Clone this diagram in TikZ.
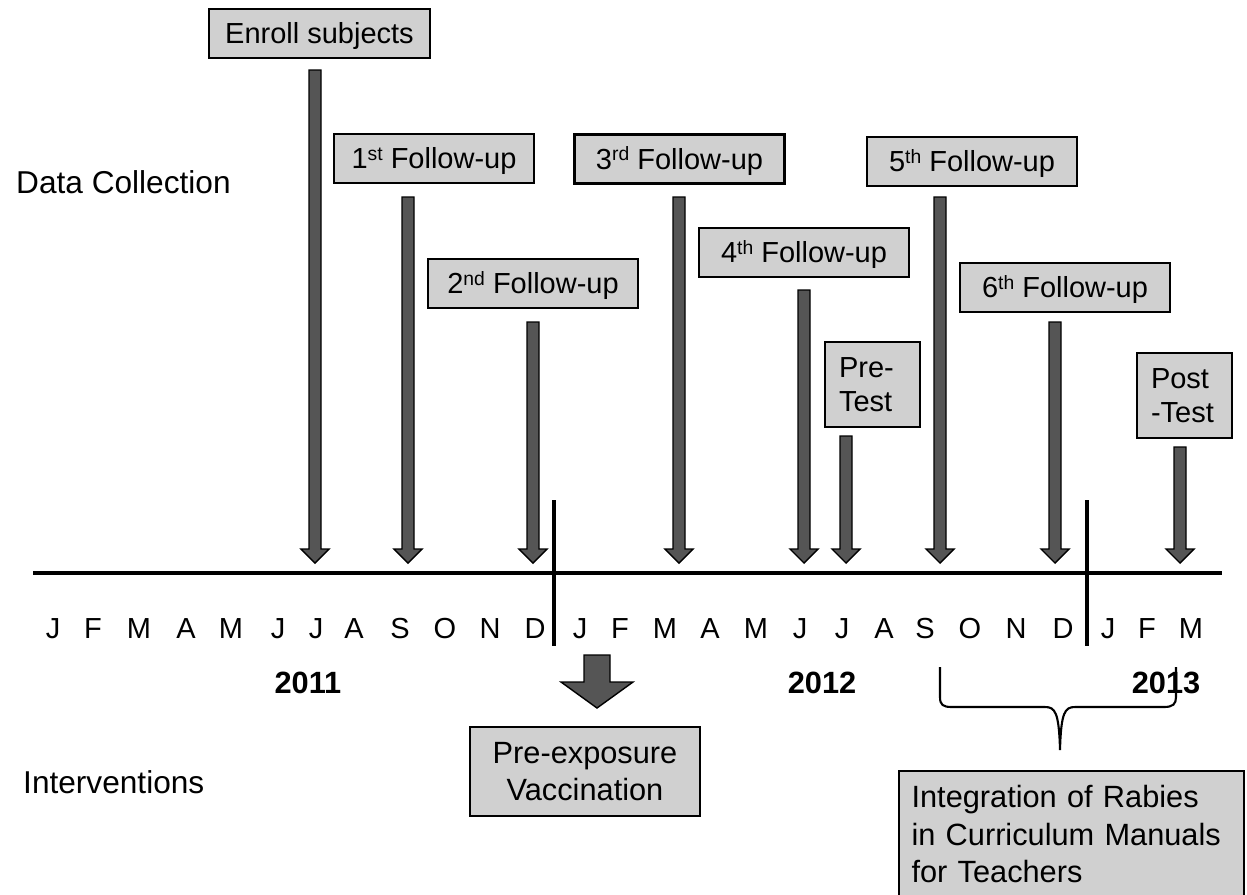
\documentclass[tikz,border=0pt]{standalone}
\usepackage{fontspec}
\setmainfont{Liberation Sans}
\usetikzlibrary{positioning}

\definecolor{boxGray}{HTML}{D0D0D0}
\definecolor{arrowGray}{HTML}{555555}
\newcommand{\ordsup}[1]{\raisebox{5pt}{\fontsize{11}{12}\selectfont #1}}

\begin{document}
\begin{tikzpicture}[
	x=0.02cm, y=-0.02cm,
	font=\fontsize{16.5}{19.5}\selectfont,
	% Node styles
	eventBox/.style={draw=black, line width=1.2pt, fill=boxGray, minimum width=4.2cm, minimum height=0.98cm, inner sep=0pt, text height=12.5pt, text depth=0.7pt},
	testBox/.style={draw=black, line width=1.2pt, fill=boxGray, minimum width=1.9cm, minimum height=1.7cm, inner xsep=0.28cm, text width=1.34cm, align=left},
	actionBox/.style={draw=black, line width=1.2pt, fill=boxGray, font=\fontsize{17.5}{21.5}\selectfont},
	rowLabel/.style={anchor=west, font=\fontsize{18}{21}\selectfont},
	yearLabel/.style={font=\fontsize{17.5}{21}\selectfont\bfseries},
	% Line styles
	blockArrow/.style={draw=black, line width=0.8pt, fill=arrowGray, line join=miter},
	axisLine/.style={line width=2.8pt},
	yearLine/.style={line width=2.2pt},
	braceLine/.style={line width=1.2pt}
	]

	\path[use as bounding box, clip] (0,0) rectangle (1247,894);

	% =========================================================
	% 1. ROW LABELS
	% =========================================================
	\node[rowLabel] (dataLbl) at (10,182) {Data Collection};
	\node[rowLabel] (interLbl) at (17,782) {Interventions};

	% =========================================================
	% 2. TIME AXIS (months, years)
	% =========================================================
	\coordinate (axisStart) at (33,573);
	\coordinate (axisEnd) at (1222,573);
	\draw[axisLine] (axisStart) -- (axisEnd);

	\foreach \x/\m [count=\i] in {53/J, 93/F, 139/M, 186/A, 231/M, 278/J, 316/J, 354/A, 400/S, 445/O, 490/N, 535/D,
		580/J, 620/F, 665/M, 710/A, 756/M, 800/J, 842/J, 884/A, 925/S, 970/O, 1016/N, 1063/D,
		1108/J, 1147/F, 1191/M}
		\node (month\i) at (\x,629) {\m};

	% year separators
	\coordinate (sepA) at (554,500);
	\coordinate (sepB) at (1087,500);
	\draw[yearLine] (sepA) -- (554,646);
	\draw[yearLine] (sepB) -- (1087,646);

	\node[yearLabel] (year2011) at (308,683) {2011};
	\node[yearLabel] (year2012) at (822,683) {2012};
	\node[yearLabel] (year2013) at (1166,683) {2013};

	% =========================================================
	% 3. DATA COLLECTION EVENTS
	% =========================================================
	\node[eventBox, minimum width=4.42cm] (enroll) at (319.5,33.5) {Enroll subjects};
	\node[eventBox, minimum width=4.0cm] (follow1) at (434,158.5) {1\ordsup{st} Follow-up};
	\node[eventBox] (follow2) at (533,283.5) {2\ordsup{nd} Follow-up};
	\node[eventBox] (follow3) at (679.5,159) {3\ordsup{rd} Follow-up};
	\node[eventBox] (follow4) at (804,252.5) {4\ordsup{th} Follow-up};
	\node[eventBox] (follow5) at (972,161.5) {5\ordsup{th} Follow-up};
	\node[eventBox] (follow6) at (1065,287.5) {6\ordsup{th} Follow-up};
	\node[testBox] (preTest) at (872.5,384.5) {Pre-\\Test};
	\node[testBox] (postTest) at (1184.5,395.5) {Post\\-Test};

	% block arrows down to the axis
	\foreach \x/\top in {315/70, 408/197, 533/322, 679/197, 804/290, 846/436, 940/197, 1055/322, 1180/447}
		\draw[blockArrow] (\x-6,\top) -- (\x-6,549) -- (\x-14,549) -- (\x,563)
			-- (\x+14,549) -- (\x+6,549) -- (\x+6,\top) -- cycle;

	% =========================================================
	% 4. INTERVENTIONS
	% =========================================================
	\draw[blockArrow] (584,655) -- (584,682) -- (561,682) -- (597,708)
		-- (633,682) -- (610,682) -- (610,655) -- cycle;
	\node[actionBox, minimum width=4.6cm, minimum height=1.78cm, align=center] (vaccine) at (585,771.5) {Pre-exposure\\Vaccination};

	% brace over Sep 2012 -- Mar 2013
	\coordinate (braceTip) at (1060,750);
	\draw[braceLine] (940,667) -- (940,697) .. controls (940,705) and (943,707) .. (952,707)
		-- (1045,707) .. controls (1055,707) and (1059,712) .. (braceTip)
		.. controls (1061,712) and (1065,707) .. (1075,707)
		-- (1164,707) .. controls (1173,707) and (1176,704) .. (1176,697) -- (1176,667);

	\node[actionBox, anchor=north west, text width=6.4cm, inner xsep=0.25cm, inner ysep=0.28cm, align=left] (curriculum) at (898,770)
		{Integration of Rabies\\in Curriculum Manuals\\for Teachers};

\end{tikzpicture}
\end{document}
